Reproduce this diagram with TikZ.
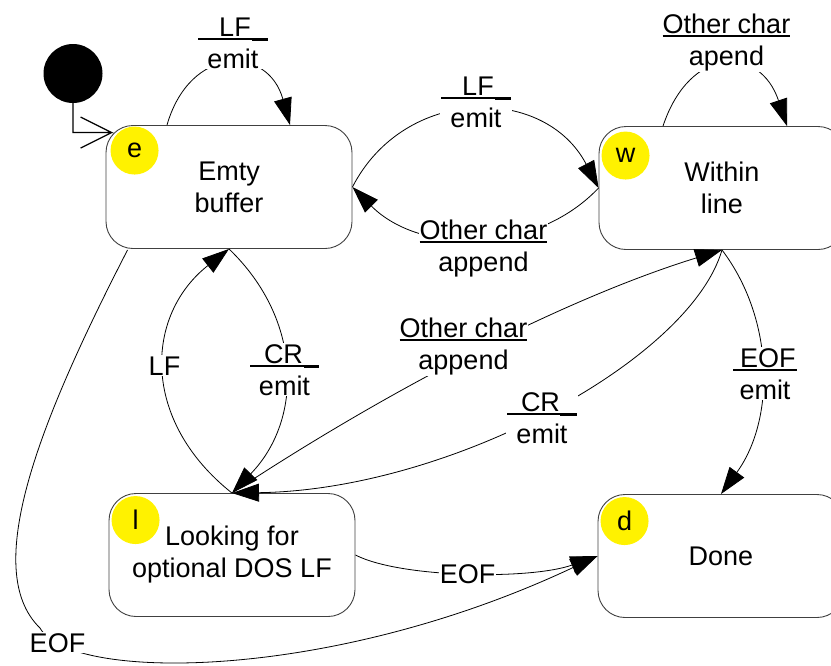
\documentclass[tikz,border=0pt]{standalone}
\usepackage{fontspec}
\setmainfont{Liberation Sans}
\usetikzlibrary{arrows.meta,calc}
\newsavebox\ulbox
\newcommand\ulin[4]{\sbox\ulbox{\hspace*{#1}#2\hspace*{#3}}%
  \rlap{\rule[-4pt]{\wd\ulbox}{2.2pt}}%
  \rlap{\hspace*{\dimexpr\wd\ulbox-#4\relax}\rule[-5pt]{#4}{3.3pt}}%
  \usebox\ulbox}
\newcommand\dfont{\fontsize{27}{32}\selectfont}
\begin{document}
\begin{tikzpicture}[x=1pt,y=-1pt,
  state/.style={draw=black!75, line width=0.9pt, rounded corners=27pt,
    minimum width=246pt, minimum height=123pt, inner sep=0pt, align=center, font=\dfont},
  tag/.style={circle, fill=yellow, minimum size=48pt, inner sep=0pt, font=\dfont},
  lbl/.style={fill=white, inner sep=1pt, align=center, font=\dfont, anchor=base},
  tr/.style={draw, line width=0.8pt, -{Triangle[length=27pt,width=18pt]}},
  initline/.style={draw, line width=1.2pt}]
\useasboundingbox (0,0) rectangle (831,665);
\clip (0,0) rectangle (831,665);

% states
\node[state] (e) at (229,187) {Emty\\buffer};
\node[state] (w) at (722,188) {Within\\line};
\node[state] (l) at (232,555) {Looking for\\optional DOS LF};
\node[state] (d) at (721,556) {Done};

\node[tag] (et) at ($(e.north west)+(29,25.5)$) {e};
\node[tag] (wt) at ($(w.north west)+(27,29.5)$) {w};
\node[tag] (lt) at ($(l.north west)+(27,27)$) {l};
\node[tag] (dt) at ($(d.north west)+(27,27)$) {d};

% initial pseudo-state with open barb arrow
\node[circle, fill=black, minimum size=59pt, inner sep=0pt] (init) at (73,73.5) {};
\coordinate (einit) at ($(e.north west)+(6,7.5)$);
\draw[initline] (init.south) |- (einit) -- ++(-31,-15.5) ++(31,15.5) -- ++(-31,15.5);

% transitions
\draw[tr] ($(e.north)+(-62,0)$) .. controls (190,45) and (268,45) .. ($(e.north)+(61,0)$);
\draw[tr] ($(w.north)+(-59,0)$) .. controls (690,45) and (760,45) .. ($(w.north)+(65,0)$);
\draw[tr] (e.east) .. controls (405,85) and (545,85) .. (w.west);
\draw[tr] (w.west) .. controls (535,255) and (420,255) .. (e.east);
\draw[tr] (l.north) .. controls (140,420) and (145,315) .. (e.south);
\draw[tr] (e.south) .. controls (303,320) and (303,420) .. (l.north);
\draw[tr] (l.north) .. controls (380,395) and (560,300) .. (w.south);
\draw[tr] (w.south) .. controls (690,360) and (450,490) .. (l.north);
\draw[tr] (w.south) .. controls (775,320) and (775,420) .. (d.north);
\draw[tr] (l.east) .. controls (400,578) and (530,580) .. (d.west);
\draw[tr] ($(e.south west)+(22,1)$) .. controls (40,420) and (-20,570) .. (40,628)
   .. controls (70,682) and (330,682) .. (d.west);

% labels (anchor base = baseline of the last line)
\node[lbl] (L1) at (233,68) {\ulin{21pt}{LF}{17pt}{16pt}\\emit};
\node[lbl] (L2) at (726.5,65) {\ulin{0pt}{Other char}{0pt}{0pt}\\apend};
\node[lbl] (L3) at (476,127) {\ulin{21pt}{LF}{17pt}{16pt}\\emit};
\node[lbl] (L4) at (483.5,271) {\ulin{0pt}{Other char}{0pt}{0pt}\\append};
\node[lbl] (L5) at (164.5,375) {LF};
\node[lbl] (L6) at (284.5,395) {\ulin{14pt}{CR}{16pt}{15pt}\\emit};
\node[lbl] (L7) at (463.5,369) {\ulin{0pt}{Other char}{0pt}{0pt}\\append};
\node[lbl] (L8) at (542,443) {\ulin{14pt}{CR}{17pt}{17pt}\\emit};
\node[lbl] (L9) at (765,399) {\ulin{7pt}{EOF}{1.5pt}{0pt}\\emit};
\node[lbl] (L10) at (467.5,583) {EOF};
\node[lbl] (L11) at (57.5,652) {EOF};
\end{tikzpicture}
\end{document}
